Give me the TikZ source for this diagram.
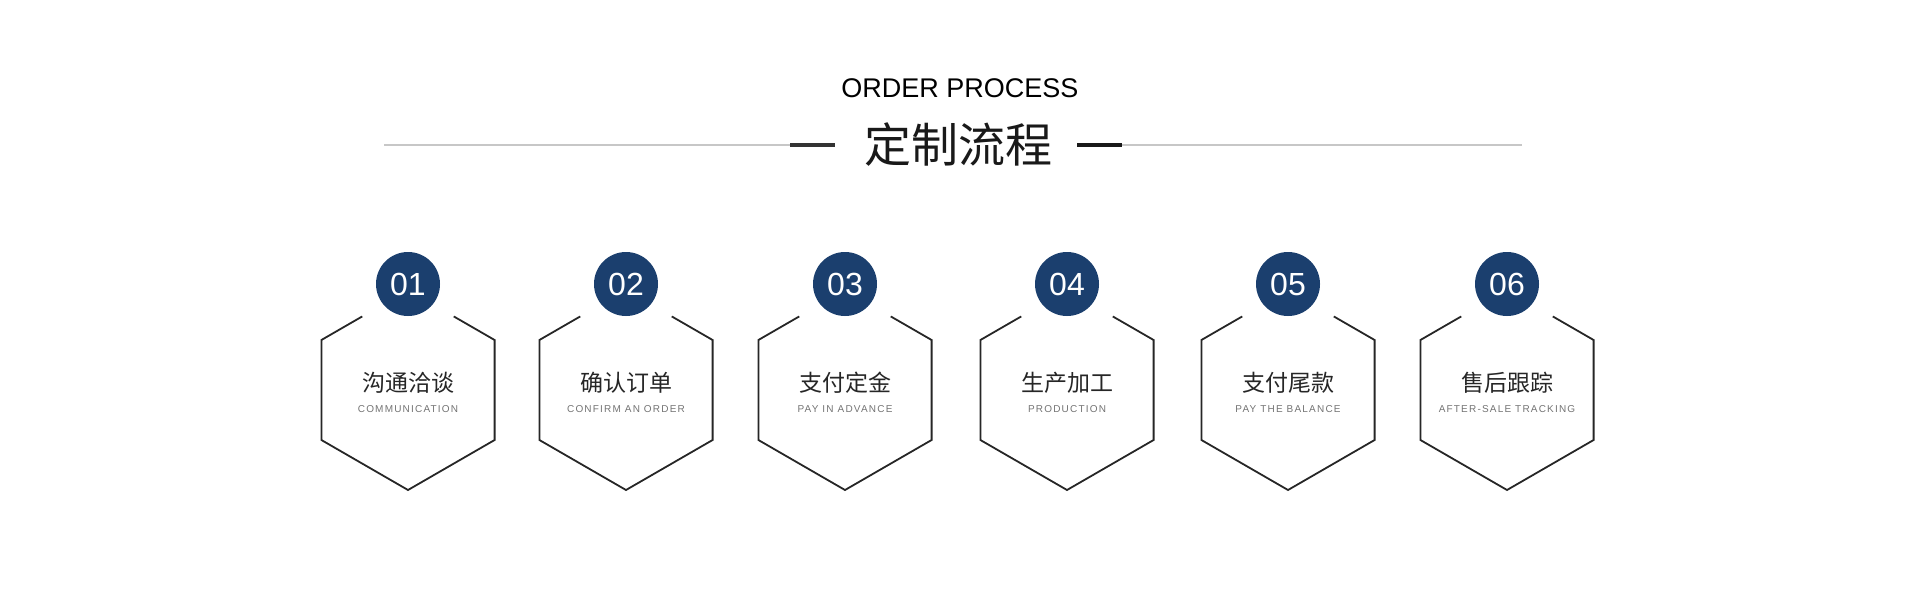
\documentclass[tikz,border=0pt]{standalone}
\usepackage{fontspec}
\setmainfont{Liberation Sans}
\newfontfamily\cjk{Noto Sans CJK SC}
\newfontfamily\spaced[LetterSpace=12]{Liberation Sans}
\definecolor{navy}{HTML}{1B3F6E}
\begin{document}
\begin{tikzpicture}[x=1pt,y=-1pt,
  hexl/.style={draw=black!85,line width=1.8pt,line join=miter},
  badge/.style={circle,fill=navy,minimum size=64pt,inner sep=0pt,text=white,font=\fontsize{32}{32}\selectfont},
  cn/.style={font=\cjk\fontsize{23}{23}\selectfont,text=black!85},
  en/.style={font=\spaced\fontsize{10}{10}\selectfont,text=black!55}]
\useasboundingbox (0,0) rectangle (1920,600);
\node (t1) at (960,88) {\fontsize{27}{27}\selectfont ORDER PROCESS};
\node[font=\cjk\fontsize{47}{47}\selectfont,text=black!90] (t2) at (958,145) {定制流程};
\coordinate (gl) at (384,145); \coordinate (gr) at (1522,145);
\coordinate (bl1) at (790,145); \coordinate (bl2) at (835,145);
\coordinate (br1) at (1077,145); \coordinate (br2) at (1122,145);
\draw[black!22,line width=2pt] (gl) -- (bl1);
\draw[black!22,line width=2pt] (br2) -- (gr);
\draw[black!80,line width=4.5pt] (bl1) -- (bl2);
\draw[black!90,line width=4.5pt] (br1) -- (br2);
\foreach \i/\x/\c/\e in {1/408/沟通洽谈/COMMUNICATION,2/626/确认订单/CONFIRM AN ORDER,3/845/支付定金/PAY IN ADVANCE,4/1067/生产加工/PRODUCTION,5/1288/支付尾款/PAY THE BALANCE,6/1507/售后跟踪/AFTER-SALE TRACKING}{
  \draw[hexl] (\x,290) -- (\x+86.6,340) -- (\x+86.6,440) -- (\x,490) -- (\x-86.6,440) -- (\x-86.6,340) -- cycle;
  \fill[white] (\x,284) circle (56);
  \node[badge] (b\i) at (\x,284) {0\i};
  \node[cn] (c\i) at (\x,383) {\c};
  \node[en] (e\i) at (\x,409) {\e};
}
\end{tikzpicture}
\end{document}
